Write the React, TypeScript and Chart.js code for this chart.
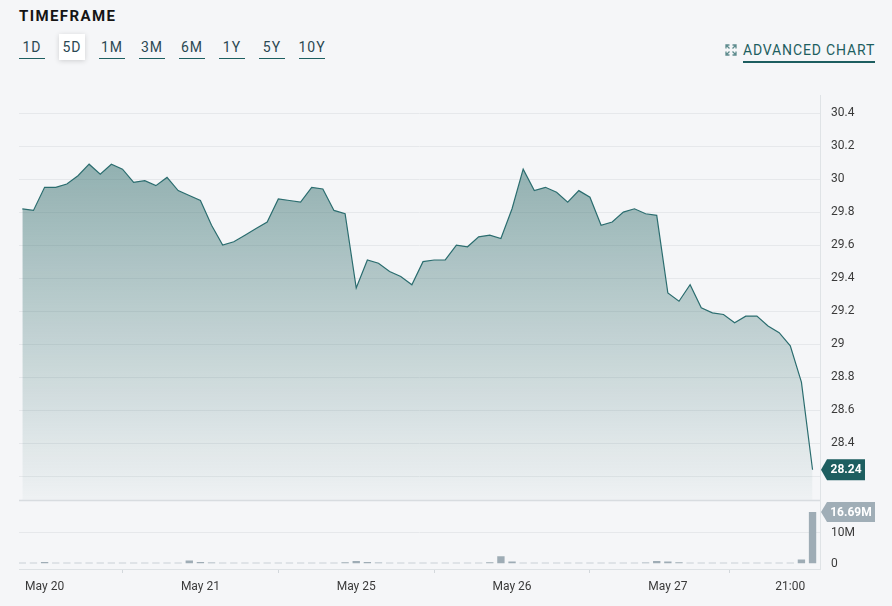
import React, { useEffect, useRef } from 'react';
import { Chart, registerables } from 'chart.js';

Chart.register(...registerables);

// ---- data ----
const prices: number[] = [
  29.82, 29.81, 29.95, 29.95, 29.97, 30.02, 30.09, 30.03, 30.09, 30.06,
  29.98, 29.99, 29.96, 30.01, 29.93, 29.90, 29.87, 29.72, 29.60, 29.62,
  29.66, 29.70, 29.74, 29.88, 29.87, 29.86, 29.95, 29.94, 29.81, 29.79,
  29.34, 29.51, 29.49, 29.44, 29.41, 29.36, 29.50, 29.51, 29.51, 29.60,
  29.59, 29.65, 29.66, 29.64, 29.82, 30.06, 29.93, 29.95, 29.92, 29.86,
  29.93, 29.89, 29.72, 29.74, 29.80, 29.82, 29.79, 29.78, 29.31, 29.26,
  29.36, 29.22, 29.19, 29.18, 29.13, 29.17, 29.17, 29.11, 29.07, 28.99,
  28.77, 28.24,
];

// volume in millions
const volumes: number[] = [
  0.35, 0.3, 0.6, 0.35, 0.3, 0.3, 0.35, 0.3, 0.3, 0.3,
  0.35, 0.3, 0.3, 0.3, 0.35, 1.1, 0.6, 0.45, 0.35, 0.3,
  0.3, 0.3, 0.35, 0.3, 0.3, 0.3, 0.35, 0.3, 0.35, 0.5,
  0.9, 0.6, 0.45, 0.35, 0.3, 0.3, 0.35, 0.3, 0.3, 0.3,
  0.35, 0.35, 0.5, 2.4, 0.75, 0.35, 0.3, 0.3, 0.35, 0.3,
  0.3, 0.3, 0.35, 0.3, 0.3, 0.35, 0.4, 0.9, 0.7, 0.5,
  0.35, 0.3, 0.3, 0.35, 0.3, 0.3, 0.3, 0.35, 0.3, 0.35,
  1.4, 16.69,
];

const tickIndex: number[] = [2, 16, 30, 44, 58, 69];
const tickLabels: string[] = ['May 20', 'May 21', 'May 25', 'May 26', 'May 27', '21:00'];
const timeframes: string[] = ['1D', '5D', '1M', '3M', '6M', '1Y', '5Y', '10Y'];
const selectedTimeframe = '5D';

const TEAL = '#1d5e60';
const BG = '#f5f6f8';

function drawTag(ctx: CanvasRenderingContext2D, x: number, y: number, text: string, color: string, w: number, h: number) {
  ctx.save();
  ctx.fillStyle = color;
  ctx.beginPath();
  ctx.moveTo(x + 1, y);
  ctx.lineTo(x + 7, y - h / 2);
  ctx.lineTo(x + 7 + w, y - h / 2);
  ctx.lineTo(x + 7 + w, y + h / 2);
  ctx.lineTo(x + 7, y + h / 2);
  ctx.closePath();
  ctx.fill();
  ctx.fillStyle = '#ffffff';
  ctx.font = 'bold 12px Roboto, sans-serif';
  ctx.textBaseline = 'middle';
  ctx.textAlign = 'center';
  ctx.fillText(text, x + 7 + w / 2, y + 0.5);
  ctx.restore();
}

const tagPlugin = {
  id: 'tags',
  afterDraw(chart: any) {
    const ctx: CanvasRenderingContext2D = chart.ctx;
    const area = chart.chartArea;
    const ys = chart.scales.y;
    const yv = chart.scales.yv;
    ctx.save();
    ctx.strokeStyle = '#d8dce0';
    ctx.lineWidth = 1.5;
    ctx.beginPath();
    ctx.moveTo(area.left, Math.round(ys.bottom) + 0.5);
    ctx.lineTo(area.right, Math.round(ys.bottom) + 0.5);
    ctx.stroke();
    ctx.restore();
    const lastP = prices[prices.length - 1];
    const lastV = volumes[volumes.length - 1];
    drawTag(ctx, area.right, ys.getPixelForValue(lastP), lastP.toFixed(2), TEAL, 38, 21);
    drawTag(ctx, area.right, yv.getPixelForValue(lastV), lastV.toFixed(2) + 'M', '#a0aeb7', 48, 20);
  },
};

const fixYFit = (s: any) => {
  s.width = 72;
  s.paddingTop = 0;
  s.paddingBottom = 0;
};

function ChartView() {
  const ref = useRef<HTMLCanvasElement | null>(null);
  useEffect(() => {
    if (!ref.current) return;
    Chart.defaults.font.family = 'Roboto, sans-serif';
    const chart = new Chart(ref.current, {
      type: 'line',
      data: {
        datasets: [
          {
            type: 'line',
            yAxisID: 'y',
            data: prices.map((p, i) => ({ x: i, y: p })),
            borderColor: '#2b6d6f',
            borderWidth: 1.2,
            pointRadius: 0,
            tension: 0,
            fill: 'start',
            backgroundColor: (c: any) => {
              const ch = c.chart;
              const s = ch.scales && ch.scales.y;
              if (!s || !isFinite(s.top) || !isFinite(s.bottom) || s.bottom <= s.top) return 'rgba(60,116,115,0.3)';
              const g = ch.ctx.createLinearGradient(0, s.top, 0, s.bottom);
              g.addColorStop(0, 'rgba(60,116,115,0.64)');
              g.addColorStop(1, 'rgba(60,116,115,0.03)');
              return g;
            },
          } as any,
          {
            type: 'bar',
            yAxisID: 'yv',
            data: volumes.map((v, i) => ({ x: i, y: v })),
            backgroundColor: '#9eacb5',
            barPercentage: 0.66,
            categoryPercentage: 1,
          } as any,
        ],
      },
      options: {
        animation: false,
        responsive: false,
        maintainAspectRatio: false,
        layout: { padding: { left: 19, top: 15, right: 0, bottom: 0 } },
        plugins: { legend: { display: false }, tooltip: { enabled: false } },
        scales: {
          x: {
            type: 'linear',
            min: -0.3,
            max: 71.67,
            offset: false,
            afterBuildTicks: (s: any) => {
              s.ticks = tickIndex.map((v) => ({ value: v }));
            },
            afterFit: (s: any) => {
              s.height = 37;
            },
            ticks: {
              autoSkip: false,
              maxRotation: 0,
              padding: 7,
              color: '#3a3a3a',
              font: { size: 12 },
              callback: (v: any) => {
                const k = tickIndex.indexOf(Number(v));
                return k >= 0 ? tickLabels[k] : '';
              },
            },
            grid: { drawOnChartArea: false, drawTicks: true, tickLength: 4, color: '#d3d8dc' },
            border: { display: true, color: '#dde1e4' },
          } as any,
          y: {
            type: 'linear',
            position: 'right',
            stack: 'panels',
            stackWeight: 405,
            min: 28.055,
            max: 30.509,
            afterFit: fixYFit,
            ticks: {
              stepSize: 0.2,
              includeBounds: false,
              padding: 11,
              color: '#3a3a3a',
              font: { size: 12 },
              callback: (v: any) => (Math.abs(Number(v) - 28.2) < 0.01 ? '' : String(Number(Number(v).toFixed(1)))),
            },
            grid: { color: '#e6e8eb', drawTicks: false },
            border: { display: true, color: '#dfe3e6' },
          } as any,
          yv: {
            type: 'linear',
            position: 'right',
            stack: 'panels',
            stackWeight: 68.7,
            min: -1.68,
            max: 20.48,
            afterFit: fixYFit,
            ticks: {
              stepSize: 10,
              includeBounds: false,
              padding: 11,
              color: '#3a3a3a',
              font: { size: 12 },
              callback: (v: any) => (Number(v) === 0 ? '0' : Number(v) === 10 ? '10M' : ''),
            },
            grid: {
              drawTicks: false,
              color: (c: any) => (c.tick && c.tick.value === 10 ? '#e6e8eb' : 'rgba(0,0,0,0)'),
            },
            border: { display: true, color: '#dfe3e6' },
          } as any,
        },
      },
      plugins: [tagPlugin as any],
    });
    return () => chart.destroy();
  }, []);
  return <canvas ref={ref} width={892} height={526} style={{ position: 'absolute', left: 0, top: 80, width: 892, height: 526 }} />;
}

function ExpandIcon() {
  return (
    <svg width="12" height="12" viewBox="0 0 12 12" style={{ position: 'absolute', left: 725, top: 44 }}>
      <g stroke="#5d8b8d" strokeWidth="1.3" fill="none">
        <path d="M1 4.5V1h3.5M1 1l3.5 3.5" />
        <path d="M11 4.5V1H7.5M11 1L7.5 4.5" />
        <path d="M1 7.5V11h3.5M1 11l3.5-3.5" />
        <path d="M11 7.5V11H7.5M11 11L7.5 7.5" />
      </g>
    </svg>
  );
}

export default function App() {
  return (
    <div
      style={{
        position: 'fixed',
        left: 0,
        top: 0,
        width: 892,
        height: 606,
        background: BG,
        fontFamily: 'Roboto, sans-serif',
        overflow: 'hidden',
      }}
    >
      <div
        style={{
          position: 'absolute',
          left: 19,
          top: 9,
          fontSize: 15,
          lineHeight: '15px',
          fontWeight: 700,
          letterSpacing: 1.4,
          color: '#151515',
        }}
      >
        TIMEFRAME
      </div>
      {timeframes.map((t, i) => {
        const sel = t === selectedTimeframe;
        return (
          <div
            key={t}
            style={{
              position: 'absolute',
              left: 19 + i * 40,
              top: 34,
              width: 26,
              height: 26,
              background: sel ? '#ffffff' : 'transparent',
              boxShadow: sel ? '0 1px 5px rgba(0,0,0,0.16)' : 'none',
            }}
          >
            <div
              style={{
                position: 'absolute',
                left: -6,
                width: 38,
                top: 6,
                textAlign: 'center',
                fontSize: 14,
                lineHeight: '14px',
                letterSpacing: 1,
                color: '#2b4852',
              }}
            >
              {t}
            </div>
            {!sel && (
              <div style={{ position: 'absolute', left: 0, top: 23.5, width: 26, height: 1.6, background: TEAL }} />
            )}
          </div>
        );
      })}
      <ExpandIcon />
      <div
        style={{
          position: 'absolute',
          left: 743,
          top: 43,
          fontSize: 14,
          lineHeight: '14px',
          letterSpacing: 0.85,
          color: TEAL,
          whiteSpace: 'nowrap',
        }}
      >
        ADVANCED CHART
      </div>
      <div style={{ position: 'absolute', left: 743, top: 61, width: 132, height: 1.6, background: TEAL }} />
      <ChartView />
    </div>
  );
}
